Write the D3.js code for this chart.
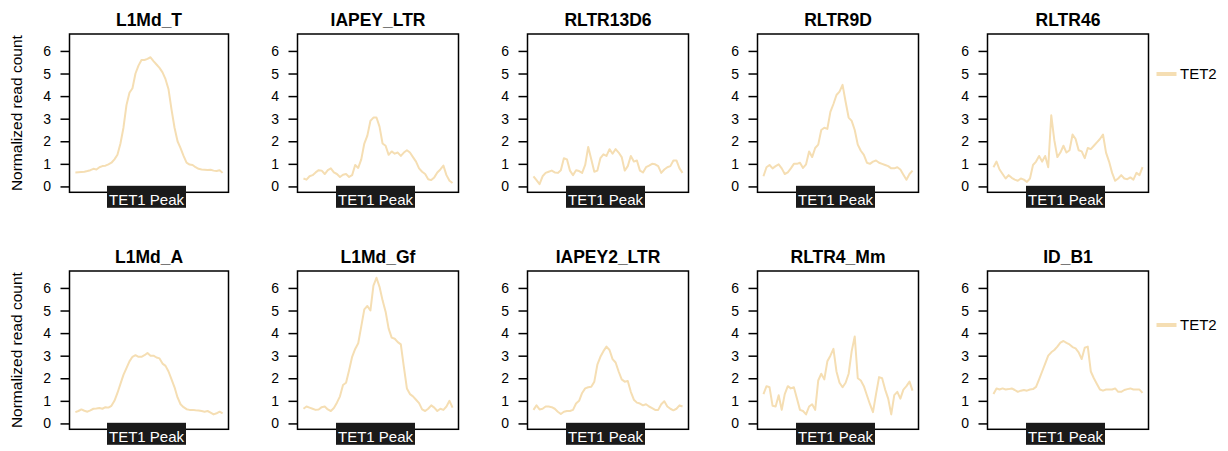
<!DOCTYPE html>
<html>
<head>
<meta charset="utf-8">
<script src="https://cdn.jsdelivr.net/npm/d3@7/dist/d3.min.js"></script>
<style>
  html, body { margin: 0; padding: 0; background: #fff; }
  svg { display: block; }
  text { font-family: "Liberation Sans", Arial, Helvetica, sans-serif; fill: #000; }
</style>
</head>
<body>
<svg id="chart" width="1228" height="451"></svg>
<script>
// Repeat families, in panel order (row by row)
const panelTitles = ["L1Md_T", "IAPEY_LTR", "RLTR13D6", "RLTR9D", "RLTR46",
                     "L1Md_A", "L1Md_Gf", "IAPEY2_LTR", "RLTR4_Mm", "ID_B1"];

// TET2 normalized read count profiles across the TET1 peak window
const tet2_L1Md_T = [0.62,0.63,0.64,0.65,0.68,0.72,0.78,0.75,0.85,0.9,0.92,0.98,1.05,1.2,1.4,1.9,2.6,3.6,4.15,4.35,5.0,5.35,5.6,5.6,5.65,5.72,5.55,5.4,5.25,5.05,4.75,4.3,3.4,2.6,2.0,1.7,1.35,1.05,0.97,0.95,0.85,0.78,0.75,0.74,0.73,0.74,0.7,0.68,0.72,0.6];
const tet2_IAPEY_LTR = [0.35,0.3,0.45,0.5,0.62,0.72,0.7,0.55,0.72,0.8,0.62,0.55,0.42,0.52,0.55,0.42,0.5,0.95,0.82,1.2,1.9,2.25,2.9,3.05,3.05,2.65,1.9,1.8,1.4,1.55,1.45,1.5,1.35,1.5,1.6,1.5,1.3,1.1,0.8,0.65,0.55,0.32,0.28,0.4,0.62,0.75,0.92,0.5,0.25,0.15];
const tet2_RLTR13D6 = [0.45,0.28,0.1,0.45,0.6,0.65,0.7,0.62,0.6,0.72,1.25,1.2,0.7,0.5,0.72,0.68,0.6,0.95,1.75,1.2,0.65,0.7,1.25,1.42,1.35,1.65,1.45,1.65,1.5,1.3,0.7,0.9,1.35,1.1,1.15,0.7,0.62,0.85,0.92,1.0,0.98,0.9,0.6,0.75,0.85,0.9,1.15,1.15,0.8,0.6];
const tet2_RLTR9D = [0.45,0.85,0.95,0.8,0.9,0.98,0.8,0.55,0.62,0.8,1.0,1.0,1.05,0.82,0.98,1.55,1.3,1.7,1.85,2.5,2.6,2.55,3.3,3.65,4.05,4.2,4.5,3.75,3.05,2.9,2.5,1.85,1.58,1.4,1.05,1.0,1.1,1.15,1.05,1.0,0.95,0.9,0.8,0.8,0.85,0.75,0.52,0.3,0.55,0.7];
const tet2_RLTR46 = [0.85,1.1,0.75,0.55,0.35,0.5,0.38,0.3,0.25,0.35,0.3,0.2,0.35,0.95,1.1,1.35,1.1,1.35,0.85,3.15,2.05,1.3,1.5,1.8,1.5,1.6,2.3,2.1,1.6,1.55,1.25,1.7,1.65,1.8,1.95,2.1,2.3,1.5,1.1,0.6,0.25,0.35,0.5,0.35,0.32,0.4,0.3,0.6,0.5,0.85];
const tet2_L1Md_A = [0.5,0.55,0.62,0.56,0.52,0.58,0.65,0.66,0.68,0.65,0.72,0.7,0.78,1.0,1.35,1.75,2.15,2.45,2.75,2.95,3.02,2.95,2.95,3.02,3.12,3.0,3.0,2.92,2.88,2.65,2.55,2.3,1.95,1.6,1.15,0.85,0.72,0.63,0.6,0.6,0.58,0.57,0.55,0.52,0.55,0.48,0.4,0.45,0.52,0.45];
const tet2_L1Md_Gf = [0.65,0.75,0.7,0.65,0.6,0.62,0.72,0.75,0.62,0.55,0.68,0.92,1.2,1.7,1.8,2.35,2.95,3.3,3.55,4.3,5.05,5.2,5.0,6.1,6.45,6.05,5.45,4.95,4.2,3.8,3.75,3.6,3.5,2.5,1.55,1.3,1.2,1.05,0.9,0.62,0.55,0.65,0.8,0.7,0.55,0.65,0.6,0.75,1.0,0.7];
const tet2_IAPEY2_LTR = [0.6,0.8,0.62,0.65,0.75,0.75,0.72,0.65,0.52,0.42,0.52,0.55,0.55,0.6,0.88,1.0,1.35,1.55,1.6,1.62,1.85,2.6,2.95,3.2,3.4,3.25,2.85,2.7,2.3,1.95,1.85,1.88,1.4,1.05,0.92,0.88,0.8,0.85,0.75,0.68,0.6,0.6,0.85,0.98,0.75,0.65,0.58,0.65,0.8,0.75];
const tet2_RLTR4_Mm = [1.3,1.65,1.6,0.78,0.75,1.25,0.6,1.3,1.65,1.55,1.6,1.1,0.6,0.55,0.4,0.75,0.85,0.6,1.9,2.2,1.95,2.75,3.0,3.3,2.3,1.8,1.6,1.8,2.2,3.2,3.85,2.0,1.9,1.65,1.25,0.85,0.5,1.3,2.05,2.0,1.5,1.1,0.4,1.25,1.4,1.1,1.5,1.65,1.85,1.45];
const tet2_ID_B1 = [1.3,1.55,1.5,1.55,1.5,1.52,1.55,1.48,1.4,1.45,1.48,1.45,1.5,1.52,1.62,1.95,2.3,2.65,3.0,3.15,3.25,3.4,3.58,3.65,3.57,3.5,3.38,3.32,3.15,2.85,3.35,3.4,2.3,2.0,1.75,1.5,1.45,1.5,1.5,1.5,1.55,1.4,1.4,1.48,1.52,1.55,1.5,1.5,1.5,1.35];

const panelSeries = [tet2_L1Md_T, tet2_IAPEY_LTR, tet2_RLTR13D6, tet2_RLTR9D, tet2_RLTR46,
                     tet2_L1Md_A, tet2_L1Md_Gf, tet2_IAPEY2_LTR, tet2_RLTR4_Mm, tet2_ID_B1];

const yTicks = [0, 1, 2, 3, 4, 5, 6];
const yDomain = [-0.26, 6.75];
const xCenterLabel = "TET1 Peak";
const seriesName = "TET2";
const yAxisTitle = "Normalized read count";

// ---- layout ----
const colLeft  = [69.5, 297.5, 527.5, 757.5, 987.5];
const colRight = [228.5, 458.5, 688.5, 918.5, 1148.5];
const rowTop    = [34, 271];
const rowBottom = [192.3, 429.3];
const legendY   = [74, 325];
const lineColor = "#F5DEB3";

const svg = d3.select("#chart");

panelSeries.forEach((values, i) => {
  const row = Math.floor(i / 5), col = i % 5;
  const x0 = colLeft[col], x1 = colRight[col];
  const y0 = rowTop[row], y1 = rowBottom[row];
  const n = values.length;

  const x = d3.scaleLinear().domain([-0.04 * (n - 1), 1.04 * (n - 1)]).range([x0, x1]);
  const y = d3.scaleLinear().domain(yDomain).range([y1, y0]);

  const g = svg.append("g");

  // profile line
  g.append("path")
    .datum(values)
    .attr("fill", "none")
    .attr("stroke", lineColor)
    .attr("stroke-width", 2)
    .attr("stroke-linejoin", "round")
    .attr("d", d3.line().x((d, k) => x(k)).y(d => y(d)));

  // frame
  g.append("rect")
    .attr("x", x0).attr("y", y0)
    .attr("width", x1 - x0).attr("height", y1 - y0)
    .attr("fill", "none").attr("stroke", "#000").attr("stroke-width", 1.5);

  // y axis
  const ax = g.append("g")
    .attr("transform", `translate(${x0},0)`)
    .call(d3.axisLeft(y).tickValues(yTicks).tickSize(9).tickPadding(9.5).tickFormat(d3.format("d")));
  ax.select(".domain").remove();
  ax.selectAll(".tick line").attr("stroke", "#000").attr("stroke-width", 1.5);
  ax.selectAll(".tick text")
    .attr("font-size", 14).attr("fill", "#000")
    .style("font-family", '"Liberation Sans", Arial, Helvetica, sans-serif');

  // panel title
  g.append("text")
    .attr("x", (x0 + x1) / 2)
    .attr("y", y0 - 8.5)
    .attr("text-anchor", "middle")
    .attr("font-size", 17.5)
    .attr("font-weight", "bold")
    .text(panelTitles[i]);

  // TET1 peak marker under the frame
  const cx = (x0 + x1) / 2 - 2.5;
  const lbl = g.append("text")
    .attr("x", cx)
    .attr("y", y1 + 12.5)
    .attr("text-anchor", "middle")
    .attr("font-size", 15)
    .style("fill", "#fff")
    .text(xCenterLabel);
  g.insert("rect", () => lbl.node())
    .attr("x", cx - 39.5).attr("y", y1 - 6.5)
    .attr("width", 79).attr("height", 22)
    .attr("fill", "#1a1a1a");
});

// y-axis titles and legends, one per row
[0, 1].forEach(row => {
  const cy = (rowTop[row] + rowBottom[row]) / 2;
  svg.append("text")
    .attr("transform", `translate(22,${cy}) rotate(-90)`)
    .attr("text-anchor", "middle")
    .attr("font-size", 15.5)
    .text(yAxisTitle);

  const lg = svg.append("g").attr("transform", `translate(1156.5,${legendY[row]})`);
  lg.append("line")
    .attr("x1", 0).attr("x2", 20).attr("y1", 0).attr("y2", 0)
    .attr("stroke", lineColor).attr("stroke-width", 4);
  lg.append("text")
    .attr("x", 23.5).attr("y", 0).attr("dy", "0.35em")
    .attr("font-size", 15)
    .text(seriesName);
});
</script>
</body>
</html>
